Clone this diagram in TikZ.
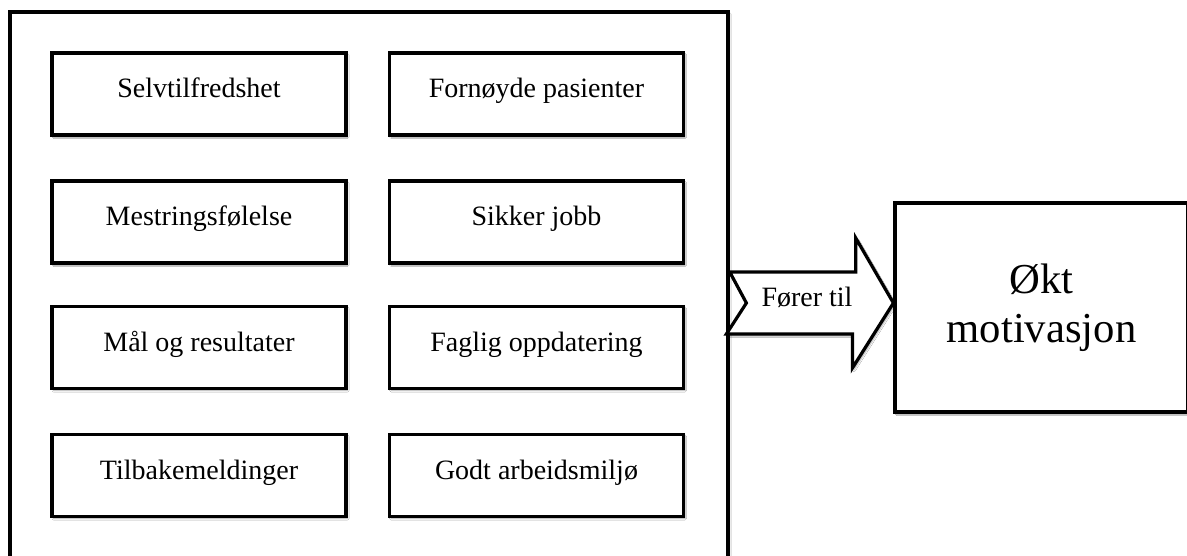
\documentclass[tikz,border=0pt]{standalone}
\usepackage{fontspec}
\setmainfont{Liberation Serif}
\usetikzlibrary{shadows.blur}
\begin{document}
\begin{tikzpicture}[x=0.75pt, y=-0.75pt,
  soft/.style={blur shadow={shadow xshift=1.2pt, shadow yshift=-1.5pt,
      shadow blur steps=4, shadow blur radius=1.2pt, shadow opacity=35}},
  itembox/.style={draw, line width=2.6pt, fill=white, soft,
      minimum width=220.5pt, minimum height=61.5pt, inner sep=0pt,
      font=\fontsize{21}{25}\selectfont, text height=14pt, text depth=8.5pt},
  panelbox/.style={draw, line width=2.6pt, fill=white, soft,
      minimum width=538.5pt, minimum height=456pt, inner sep=0pt},
  goalbox/.style={draw, line width=2.4pt, fill=white, soft,
      minimum width=219.75pt, minimum height=156.75pt, inner sep=0pt,
      align=center, font=\fontsize{32}{37}\selectfont},
  bigarrow/.style={draw, line width=2.4pt, fill=white, line join=miter, soft},
  arrowlabel/.style={font=\fontsize{21}{25}\selectfont, anchor=base, inner sep=0pt}]

  % canvas
  \useasboundingbox (0,0) rectangle (1187,556);
  \fill[white] (0,0) rectangle (1187,556);
  \clip (0,0) rectangle (1187,556);

  % surrounding frame (runs past the lower edge)
  \node[panelbox] (panel) at (369,316) {};

  % factor boxes, two columns
  \node[itembox] (selv)  at (199,94)     {Selvtilfredshet};
  \node[itembox] (forn)  at (536.5,94)   {Fornøyde pasienter};
  \node[itembox] (mestr) at (199,222)    {Mestringsfølelse};
  \node[itembox] (sikk)  at (536.5,222)  {Sikker jobb};
  \node[itembox] (maal)  at (199,347.5)  {Mål og resultater};
  \node[itembox] (fagl)  at (536.5,347.5){Faglig oppdatering};
  \node[itembox] (tilb)  at (199,475.5)  {Tilbakemeldinger};
  \node[itembox] (godt)  at (536.5,475.5){Godt arbeidsmiljø};

  % outcome box (right border at the edge)
  \node[goalbox] (goal) at (1041.5,307.5) {Økt\\motivasjon};

  % notched block arrow from frame to outcome
  \coordinate (mid) at (800,303);
  \coordinate (tail) at (panel.east |- mid);
  \coordinate (tip) at (goal.west |- mid);
  \draw[bigarrow] (tail) ++(0,-31) -- ++(126,0) -- ++(0,-34) -- (tip)
      -- ++(-41,65) -- ++(0,-34) -- ++(-126,0) -- ++(20,-31) -- cycle;
  \node[arrowlabel] (lbl) at (807,306) {Fører til};
\end{tikzpicture}
\end{document}
